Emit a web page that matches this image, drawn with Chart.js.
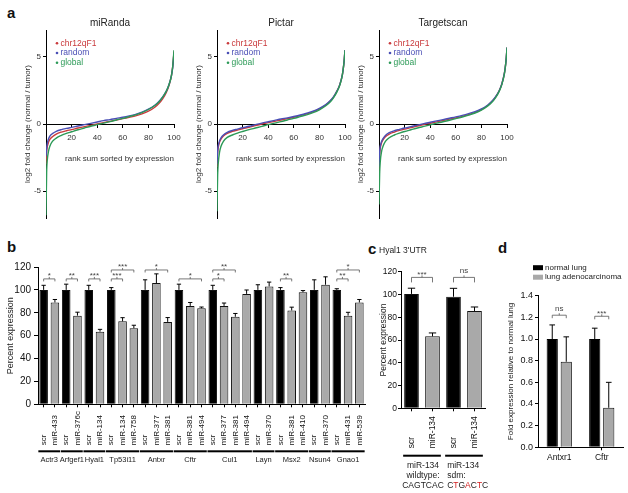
<!DOCTYPE html>
<html>
<head>
<meta charset="utf-8">
<script src="https://cdn.jsdelivr.net/npm/chart.js@4.4.1/dist/chart.umd.min.js"></script>
<style>
  body { margin: 0; background: #fff; }
  #fig { position: relative; width: 628px; height: 493px; font-family: "Liberation Sans", Arial, sans-serif; }
  #fig canvas { position: absolute; }
  .lab { position: absolute; font-weight: bold; font-size: 15px; line-height: 15px; color: #111; }
</style>
</head>
<body>
<div id="fig">
  <div class="lab" style="left:7px;top:5px">a</div>
  <div class="lab" style="left:7px;top:239px">b</div>
  <div class="lab" style="left:368px;top:241px">c</div>
  <div class="lab" style="left:498px;top:240px">d</div>

  <canvas id="a1" width="190" height="228" style="left:0;top:0"></canvas>
  <canvas id="a2" width="190" height="228" style="left:171px;top:0"></canvas>
  <canvas id="a3" width="190" height="228" style="left:333px;top:0"></canvas>
  <canvas id="b" width="372" height="215" style="left:0;top:258px"></canvas>
  <canvas id="c" width="111" height="249" style="left:379px;top:244px"></canvas>
  <canvas id="d" width="123" height="235" style="left:505px;top:258px"></canvas>
</div>
<script>
const FONT = '"Liberation Sans", Arial, sans-serif';
const GRAY = '#a9a9a9';

// ---- panel a: rank sum curves (log2 fold change) ----
const rankPos = [0, 0.5, 1, 2, 3, 5, 8, 12, 16, 20, 25, 30, 35, 40, 45, 50, 55, 60, 65, 70, 75, 80, 85, 88, 91, 94, 96, 98, 99, 99.5, 100];
const aTicks = [-5, 0, 5];

const mirandaChr    = [-3.0, -2.1, -1.7, -1.35, -1.15, -0.95, -0.75, -0.6, -0.5, -0.42, -0.3, -0.2, -0.1, 0.0, 0.1, 0.2, 0.3, 0.4, 0.5, 0.6, 0.75, 0.95, 1.25, 1.5, 1.85, 2.35, 2.85, 3.6, 4.3, 4.8, 5.4];
const mirandaRandom = [-2.4, -1.8, -1.45, -1.1, -0.9, -0.72, -0.55, -0.42, -0.33, -0.25, -0.15, -0.05, 0.05, 0.15, 0.25, 0.33, 0.42, 0.5, 0.6, 0.72, 0.88, 1.1, 1.4, 1.65, 2.0, 2.45, 2.9, 3.6, 4.2, 4.7, 5.3];
const mirandaGlobal = [-6.8, -3.6, -2.7, -2.0, -1.65, -1.3, -1.05, -0.85, -0.7, -0.58, -0.43, -0.3, -0.17, -0.05, 0.07, 0.18, 0.3, 0.42, 0.55, 0.68, 0.85, 1.08, 1.38, 1.62, 1.98, 2.45, 2.9, 3.6, 4.3, 4.9, 5.5];

const pictarChr    = [-3.2, -2.2, -1.75, -1.35, -1.15, -0.9, -0.7, -0.55, -0.45, -0.35, -0.25, -0.12, 0.0, 0.1, 0.2, 0.3, 0.4, 0.5, 0.62, 0.75, 0.9, 1.12, 1.42, 1.68, 2.0, 2.5, 2.95, 3.7, 4.4, 4.9, 5.5];
const pictarRandom = [-3.0, -2.0, -1.6, -1.25, -1.05, -0.82, -0.62, -0.48, -0.38, -0.28, -0.17, -0.05, 0.07, 0.17, 0.27, 0.37, 0.46, 0.56, 0.67, 0.8, 0.95, 1.16, 1.45, 1.7, 2.02, 2.5, 2.95, 3.7, 4.4, 4.9, 5.5];
const pictarGlobal = [-6.5, -3.8, -2.9, -2.1, -1.7, -1.3, -1.0, -0.82, -0.68, -0.56, -0.42, -0.3, -0.18, -0.05, 0.07, 0.18, 0.3, 0.42, 0.55, 0.68, 0.84, 1.06, 1.36, 1.6, 1.95, 2.45, 2.9, 3.7, 4.4, 4.9, 5.5];

const targetChr    = [-3.5, -2.3, -1.8, -1.4, -1.2, -0.95, -0.75, -0.6, -0.48, -0.38, -0.27, -0.15, -0.04, 0.06, 0.16, 0.26, 0.36, 0.46, 0.57, 0.7, 0.86, 1.07, 1.38, 1.65, 2.0, 2.5, 3.0, 3.8, 4.5, 5.0, 5.7];
const targetRandom = [-3.2, -2.1, -1.65, -1.3, -1.1, -0.85, -0.65, -0.5, -0.4, -0.3, -0.2, -0.08, 0.03, 0.13, 0.23, 0.33, 0.43, 0.53, 0.64, 0.77, 0.92, 1.12, 1.42, 1.68, 2.02, 2.5, 3.0, 3.8, 4.5, 5.0, 5.7];
const targetGlobal = [-6.0, -3.7, -2.8, -2.05, -1.7, -1.3, -1.02, -0.82, -0.68, -0.56, -0.43, -0.3, -0.18, -0.06, 0.06, 0.17, 0.28, 0.4, 0.52, 0.66, 0.82, 1.04, 1.35, 1.6, 1.95, 2.45, 2.95, 3.75, 4.5, 5.0, 5.7];

// ---- panel b: luciferase, percent expression ----
const bLabels = ['scr', 'miR-433', 'scr', 'miR-376c', 'scr', 'miR-134', 'scr', 'miR-134', 'miR-758',
  'scr', 'miR-377', 'miR-381', 'scr', 'miR-381', 'miR-494', 'scr', 'miR-377', 'miR-381', 'miR-494',
  'scr', 'miR-370', 'scr', 'miR-381', 'miR-410', 'scr', 'miR-370', 'scr', 'miR-431', 'miR-539'];
const bMeans = [100, 89, 100, 77.5, 100, 63.5, 100, 72.5, 66.5, 100, 106, 72, 100, 86, 84, 100, 86, 76.5, 96.5,
  100, 103, 100, 82, 98, 100, 104.5, 100, 77.5, 89];
const bErrs = [4, 2.6, 5, 3, 4, 2, 2, 3.2, 2.6, 8.8, 8, 3.8, 5, 3, 1, 4, 2.5, 2.9, 3.4,
  4.5, 3.8, 2, 2.9, 1.4, 8.8, 6.9, 1, 2.9, 2.6];
const bGenes = ['Actr3', 'Arfgef1', 'Hyal1', 'Tp53i11', 'Antxr', 'Cftr', 'Cul1', 'Layn', 'Msx2', 'Nsun4', 'Gnao1'];
const bGeneSizes = [2, 2, 2, 3, 3, 3, 4, 2, 3, 2, 3];
// [from bar, to bar, bracket height, label]
const bBrackets = [[0, 1, 109.6, '*'], [2, 3, 109.6, '**'], [4, 5, 109.6, '***'], [6, 7, 109.6, '***'], [6, 8, 117.4, '***'],
  [9, 11, 117.4, '*'], [12, 14, 109.6, '*'], [15, 16, 109.6, '*'], [15, 17, 117.4, '**'],
  [21, 22, 109.6, '**'], [26, 27, 109.6, '**'], [26, 28, 117.4, '*']];

// ---- panel c: Hyal1 3'UTR ----
const cLabels = ['scr', 'miR-134', 'scr', 'miR-134'];
const cMeans = [100.5, 63.2, 98, 85.5];
const cErrs = [5, 3, 7.4, 3.5];
const cBrackets = [[0, 1, 115, '***'], [2, 3, 115, 'ns']];
const cWild = ['miR-134', 'wildtype:', 'CAGTCAC'];
const cSdm = ['miR-134', 'sdm:', 'CTGACTC'];
const cSdmChanged = [1, 3, 5];   // mutated letters shown in red

// ---- panel d: qPCR normal lung vs adenocarcinoma ----
const dCats = ['Antxr1', 'Cftr'];
const dNormal = [1.0, 1.0];
const dNormalErr = [0.13, 0.10];
const dTumor = [0.79, 0.365];
const dTumorErr = [0.23, 0.235];
const dBrackets = [[0, 1.22, 'ns'], [1, 1.21, '***']];

Chart.defaults.font.family = FONT;
Chart.defaults.color = '#222';
Chart.defaults.animation = false;
Chart.defaults.responsive = false;
Chart.defaults.plugins.legend.display = false;
Chart.defaults.plugins.tooltip.enabled = false;

function drawRow(ctx, row, x, y, align) {
  // row is a string or a list of [text, colour] pieces
  const parts = typeof row === 'string' ? [[row, '#222']] : row;
  const w = parts.reduce((s, p) => s + ctx.measureText(p[0]).width, 0);
  let cx = align === 'right' ? x - w : align === 'left' ? x : x - w / 2;
  ctx.textAlign = 'left';
  parts.forEach(p => {
    ctx.fillStyle = p[1];
    ctx.fillText(p[0], cx, y);
    cx += ctx.measureText(p[0]).width;
  });
}

// error bars, significance brackets, small legends and the labels under the bar axes
const figMarks = {
  id: 'figMarks',
  afterDatasetsDraw(chart, args, o) {
    const ctx = chart.ctx, ca = chart.chartArea, ys = chart.scales.y;
    ctx.save();

    chart.data.datasets.forEach((ds, di) => {
      if (!ds.errs) return;
      chart.getDatasetMeta(di).data.forEach((bar, i) => {
        const top = ys.getPixelForValue(ds.data[i] + ds.errs[i]);
        const half = bar.width / 4;
        ctx.strokeStyle = '#000';
        ctx.lineWidth = 1;
        ctx.beginPath();
        ctx.moveTo(bar.x, bar.y);
        ctx.lineTo(bar.x, top);
        ctx.moveTo(bar.x - half, top);
        ctx.lineTo(bar.x + half, top);
        ctx.stroke();
      });
    });

    (o.brackets || []).forEach(br => {
      const xa = chart.getDatasetMeta(br.a[0]).data[br.a[1]].x;
      const xb = chart.getDatasetMeta(br.b[0]).data[br.b[1]].x;
      const yy = ys.getPixelForValue(br.v);
      const xm = (xa + xb) / 2;
      ctx.strokeStyle = '#555';
      ctx.lineWidth = 0.8;
      ctx.beginPath();
      ctx.moveTo(xa, yy + o.drop);
      ctx.lineTo(xa, yy);
      ctx.lineTo(xb, yy);
      ctx.lineTo(xb, yy + o.drop);
      ctx.moveTo(xm, yy);
      ctx.lineTo(xm, yy - 2);
      ctx.stroke();
      ctx.fillStyle = '#444';
      ctx.font = o.starSize + 'px ' + FONT;
      ctx.textAlign = 'center';
      ctx.textBaseline = 'alphabetic';
      ctx.fillText(br.text, xm, yy - (br.text === 'ns' ? 4 : 0.5));
    });

    if (o.legend) {
      const L = o.legend;
      ctx.font = L.size + 'px ' + FONT;
      ctx.textBaseline = 'middle';
      ctx.textAlign = 'left';
      chart.data.datasets.forEach((ds, i) => {
        const x = ca.left + L.dx, yy = ca.top + L.dy + i * L.step;
        if (L.dot) {
          ctx.fillStyle = ds.borderColor;
          ctx.beginPath();
          ctx.arc(x, yy, 1.3, 0, 2 * Math.PI);
          ctx.fill();
          ctx.fillText(ds.label, x + 3.5, yy);
        } else {
          ctx.fillStyle = ds.backgroundColor;
          ctx.fillRect(x, yy - 2.5, 10, 5);
          ctx.fillStyle = '#222';
          ctx.fillText(ds.label, x + 12, yy);
        }
      });
    }

    const u = o.under;
    if (u) {
      const meta = chart.getDatasetMeta(0).data;
      ctx.textBaseline = 'middle';
      ctx.fillStyle = '#111';
      ctx.font = u.size + 'px ' + FONT;
      u.labels.forEach((t, i) => {
        ctx.save();
        ctx.translate(meta[i].x, ca.bottom + u.labelDy);
        ctx.rotate(-Math.PI / 2);
        ctx.textAlign = 'left';
        ctx.fillText(t, 0, 0);
        ctx.restore();
      });
      ctx.font = u.groupSize + 'px ' + FONT;
      u.groups.forEach(g => {
        const p = meta[g.from], q = meta[g.to];
        const x0 = p.x - p.width / 2 - 1, x1 = q.x + q.width / 2 + 1;
        ctx.fillStyle = '#000';
        ctx.fillRect(x0, ca.bottom + u.lineDy - 1, x1 - x0, 2);
        g.rows.forEach((row, r) => {
          const yy = ca.bottom + u.rowDy + r * u.rowStep;
          const x = g.align === 'left' ? x0 + g.dx : (x0 + x1) / 2 + (g.dx || 0);
          drawRow(ctx, row, x, yy, g.align || 'center');
        });
      });
    }
    ctx.restore();
  }
};

const axisGrid = { drawOnChartArea: false, tickLength: 3, color: '#000' };
const axisBorder = { color: '#000' };

// panel a
function toXY(vals) {
  return rankPos.map((r, i) => ({ x: r, y: vals[i] }));
}

function rankChart(id, title, chr, rnd, glob) {
  return new Chart(document.getElementById(id), {
    type: 'line',
    data: {
      datasets: [
        { label: 'chr12qF1', data: toXY(chr), borderColor: '#c93a3c', order: 2 },
        { label: 'random', data: toXY(rnd), borderColor: '#4a4fb5', order: 1 },
        { label: 'global', data: toXY(glob), borderColor: '#2c9a57', order: 0 }
      ]
    },
    options: {
      layout: { padding: { left: 0, right: 16, bottom: 10 } },
      elements: { point: { radius: 0 }, line: { borderWidth: 1.4, cubicInterpolationMode: 'monotone' } },
      plugins: {
        title: { display: true, text: title, fullSize: false, color: '#222', font: { size: 10, weight: 'normal' }, padding: { top: 17, bottom: 1 } },
        figMarks: { legend: { dot: true, dx: 11, dy: 13.3, step: 9.7, size: 8.5 } }
      },
      scales: {
        x: {
          type: 'linear', min: 0, max: 100, position: { y: 0 },
          ticks: { stepSize: 20, color: '#333', font: { size: 8 }, padding: 6, callback: v => v === 0 ? '' : v },
          grid: axisGrid, border: axisBorder,
          title: { display: true, text: 'rank sum sorted by expression', align: 'end', color: '#333', font: { size: 8 }, padding: { top: 5, bottom: 0 } }
        },
        y: {
          min: -7, max: 7,
          afterBuildTicks: s => { s.ticks = aTicks.map(v => ({ value: v })); },
          ticks: { color: '#333', font: { size: 8 }, padding: 2 },
          grid: axisGrid, border: axisBorder,
          title: { display: true, text: 'log2 fold change (normal / tumor)', color: '#333', font: { size: 8 }, padding: { top: 23, bottom: 0 } },
          afterFit: s => { s.width = 46; }
        }
      }
    },
    plugins: [figMarks]
  });
}

rankChart('a1', 'miRanda', mirandaChr, mirandaRandom, mirandaGlobal);
rankChart('a2', 'Pictar', pictarChr, pictarRandom, pictarGlobal);
rankChart('a3', 'Targetscan', targetChr, targetRandom, targetGlobal);

// panel b
const bGroups = [];
let start = 0;
bGenes.forEach((g, i) => {
  bGroups.push({ from: start, to: start + bGeneSizes[i] - 1, rows: [g] });
  start += bGeneSizes[i];
});

new Chart(document.getElementById('b'), {
  type: 'bar',
  data: {
    labels: bLabels,
    datasets: [{
      data: bMeans, errs: bErrs,
      backgroundColor: bLabels.map(l => l === 'scr' ? '#000' : GRAY),
      borderColor: '#111', borderWidth: 1,
      barPercentage: 0.76, categoryPercentage: 1
    }]
  },
  options: {
    layout: { padding: { top: 7, right: 7, left: 0, bottom: 0 } },
    plugins: {
      figMarks: {
        drop: 2.5, starSize: 8,
        brackets: bBrackets.map(b => ({ a: [0, b[0]], b: [0, b[1]], v: b[2], text: b[3] })),
        under: { labels: bLabels, size: 8, groupSize: 7.5, labelDy: 41, lineDy: 47, rowDy: 56, rowStep: 10, groups: bGroups }
      }
    },
    scales: {
      x: {
        ticks: { display: false },
        grid: { drawOnChartArea: false, offset: false, tickLength: 3, color: '#000' }, border: axisBorder,
        afterFit: s => { s.height = 68.7; }
      },
      y: {
        min: 0, max: 120,
        ticks: { stepSize: 20, color: '#111', font: { size: 10 }, padding: 3 },
        grid: { drawOnChartArea: false, tickLength: 4, color: '#000' }, border: axisBorder,
        title: { display: true, text: 'Percent expression', color: '#222', font: { size: 9 }, padding: { top: 5, bottom: 0 } },
        afterFit: s => { s.width = 38; }
      }
    }
  },
  plugins: [figMarks]
});

// panel c
const sdmRow = cSdm[2].split('').map((ch, i) => [ch, cSdmChanged.includes(i) ? '#d42020' : '#222']);

new Chart(document.getElementById('c'), {
  type: 'bar',
  data: {
    labels: cLabels,
    datasets: [{
      data: cMeans, errs: cErrs,
      backgroundColor: cLabels.map(l => l === 'scr' ? '#000' : GRAY),
      borderColor: '#111', borderWidth: 1,
      barPercentage: 0.7, categoryPercentage: 1
    }]
  },
  options: {
    layout: { padding: { top: 0, right: 5, left: 0, bottom: 0 } },
    plugins: {
      title: { display: true, text: "Hyal1 3'UTR", align: 'start', color: '#222', font: { size: 8.5, weight: 'normal' }, padding: { top: 2, bottom: 15.5 } },
      figMarks: {
        drop: 5, starSize: 8,
        brackets: cBrackets.map(b => ({ a: [0, b[0]], b: [0, b[1]], v: b[2], text: b[3] })),
        under: {
          labels: cLabels, size: 8.5, groupSize: 8.5, labelDy: 40, lineDy: 47.4, rowDy: 57, rowStep: 10,
          groups: [
            { from: 0, to: 1, rows: cWild, align: 'center', dx: 1 },
            { from: 2, to: 3, rows: [cSdm[0], cSdm[1], sdmRow], align: 'left', dx: 2 }
          ]
        }
      }
    },
    scales: {
      x: {
        ticks: { display: false },
        grid: { drawOnChartArea: false, offset: false, tickLength: 3, color: '#000' }, border: axisBorder,
        afterFit: s => { s.height = 84.7; }
      },
      y: {
        min: 0, max: 120,
        ticks: { stepSize: 20, color: '#111', font: { size: 8.5 }, padding: 1 },
        grid: { drawOnChartArea: false, tickLength: 3, color: '#000' }, border: axisBorder,
        title: { display: true, text: 'Percent expression', color: '#222', font: { size: 8.5 }, padding: { top: 0, bottom: 0 } },
        afterFit: s => { s.width = 22; }
      }
    }
  },
  plugins: [figMarks]
});

// panel d
new Chart(document.getElementById('d'), {
  type: 'bar',
  data: {
    labels: dCats,
    datasets: [
      { label: 'normal lung', data: dNormal, errs: dNormalErr, backgroundColor: '#000', borderColor: '#000', borderWidth: 1 },
      { label: 'lung adenocarcinoma', data: dTumor, errs: dTumorErr, backgroundColor: GRAY, borderColor: '#111', borderWidth: 1 }
    ]
  },
  options: {
    layout: { padding: { top: 37.7, right: 5, left: 0, bottom: 0 } },
    datasets: { bar: { categoryPercentage: 0.66, barPercentage: 0.8 } },
    plugins: {
      figMarks: {
        drop: 3, starSize: 8,
        brackets: dBrackets.map(b => ({ a: [0, b[0]], b: [1, b[0]], v: b[1], text: b[2] })),
        legend: { dot: false, dx: -5, dy: -28, step: 9.5, size: 8 }
      }
    },
    scales: {
      x: {
        ticks: { color: '#111', font: { size: 8.5 }, padding: 2 },
        grid: { drawOnChartArea: false, offset: false, tickLength: 3, color: '#000' }, border: axisBorder,
        afterFit: s => { s.height = 45.7; }
      },
      y: {
        min: 0, max: 1.4,
        ticks: { stepSize: 0.2, color: '#111', font: { size: 9 }, padding: 2, callback: v => v.toFixed(1) },
        grid: { drawOnChartArea: false, tickLength: 3, color: '#000' }, border: axisBorder,
        title: { display: true, text: 'Fold expression relative to normal lung', color: '#222', font: { size: 8 }, padding: { top: 1, bottom: 0 } },
        afterFit: s => { s.width = 33; }
      }
    }
  },
  plugins: [figMarks]
});
</script>
</body>
</html>
